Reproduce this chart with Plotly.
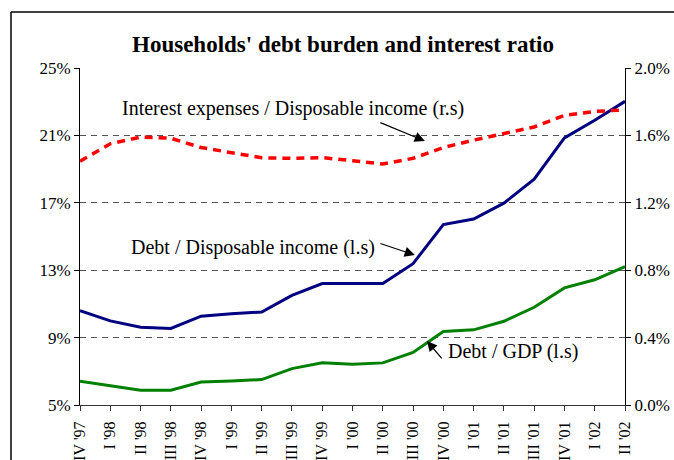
import plotly.graph_objects as go

quarters = ["IV '97", "I '98", "II '98", "III '98", "IV '98", "I '99", "II '99", "III '99",
            "IV '99", "I '00", "II '00", "III '00", "IV '00", "I '01", "II '01", "III '01",
            "IV '01", "I '02", "II '02"]

debt_disp_income = [10.6, 9.99, 9.62, 9.54, 10.27, 10.42, 10.52, 11.50, 12.21, 12.21, 12.21,
                    13.39, 15.71, 16.04, 16.98, 18.40, 20.85, 21.90, 23.02]
debt_gdp = [6.41, 6.14, 5.88, 5.88, 6.36, 6.43, 6.51, 7.16, 7.51, 7.42, 7.50, 8.12, 9.36,
            9.46, 9.97, 10.80, 11.95, 12.43, 13.21]
interest_disp_income = [1.447, 1.550, 1.590, 1.583, 1.528, 1.495, 1.467, 1.464, 1.468, 1.450,
                        1.430, 1.464, 1.528, 1.572, 1.609, 1.650, 1.719, 1.742, 1.752]

left_ticks = [5, 9, 13, 17, 21, 25]
right_ticks = [0.0, 0.4, 0.8, 1.2, 1.6, 2.0]

SERIF = "Liberation Serif, Times New Roman, serif"

fig = go.Figure()
fig.add_trace(go.Scatter(x=quarters, y=debt_disp_income, mode="lines",
                         line=dict(color="#000080", width=3), yaxis="y", showlegend=False))
fig.add_trace(go.Scatter(x=quarters, y=debt_gdp, mode="lines",
                         line=dict(color="#008000", width=3), yaxis="y", showlegend=False))
fig.add_trace(go.Scatter(x=quarters, y=interest_disp_income, mode="lines",
                         line=dict(color="#ff0000", width=3.5, dash="8px,6px"),
                         yaxis="y2", showlegend=False))

fig.update_layout(
    width=674, height=460,
    margin=dict(l=80, r=49, t=68, b=55),
    paper_bgcolor="white", plot_bgcolor="white",
    font=dict(family=SERIF, color="black"),
    title=dict(text="<b>Households' debt burden and interest ratio</b>",
               x=343 / 674, xref="container", xanchor="center",
               y=1 - 44 / 460, yref="container", yanchor="middle",
               font=dict(family=SERIF, size=23, color="black")),
    xaxis=dict(type="category", range=[0, 18], tickangle=-90, automargin=False,
               showline=True, linecolor="#333", linewidth=1,
               ticks="outside", ticklen=5, tickcolor="#333", ticklabelstandoff=4,
               showgrid=False, zeroline=False,
               tickfont=dict(family=SERIF, size=16, color="black")),
    yaxis=dict(range=[5, 25], tickvals=left_ticks, automargin=False,
               ticktext=[f"{v}%" for v in left_ticks],
               showline=True, linecolor="black", linewidth=1,
               ticks="outside", ticklen=5, tickcolor="black",
               showgrid=True, gridcolor="#555", gridwidth=1.2, griddash="6px,5px",
               zeroline=False,
               tickfont=dict(family=SERIF, size=17, color="black")),
    yaxis2=dict(range=[0, 2.0], tickvals=right_ticks, automargin=False,
                ticktext=[f"{v:.1f}%" for v in right_ticks],
                overlaying="y", side="right",
                showline=True, linecolor="black", linewidth=1,
                ticks="outside", ticklen=5, tickcolor="black",
                showgrid=False, zeroline=False,
                tickfont=dict(family=SERIF, size=17, color="black")),
)

# outer frame (left and top edges)
fig.add_shape(type="line", xref="paper", yref="paper",
              x0=(11 - 80) / 545, x1=(11 - 80) / 545, y0=(405 - 12) / 337, y1=(405 - 470) / 337,
              line=dict(color="black", width=1.5))
fig.add_shape(type="line", xref="paper", yref="paper",
              x0=(11 - 80) / 545, x1=(680 - 80) / 545, y0=(405 - 12) / 337, y1=(405 - 12) / 337,
              line=dict(color="black", width=1.5))

anno_font = dict(family=SERIF, size=20, color="black")
fig.add_annotation(x=7.03, y=22.57, xref="x", yref="y", text="Interest expenses / Disposable income (r.s)",
                   showarrow=False, font=anno_font)
fig.add_annotation(x=11.39, y=20.67, xref="x", yref="y", text="", showarrow=True,
                   ax=-46, ay=-19, arrowhead=2, arrowsize=1.7, arrowwidth=1.2, arrowcolor="black")
fig.add_annotation(x=5.70, y=14.32, xref="x", yref="y", text="Debt / Disposable income (l.s)",
                   showarrow=False, font=anno_font)
fig.add_annotation(x=11.06, y=13.90, xref="x", yref="y", text="", showarrow=True,
                   ax=-36, ay=-12, arrowhead=2, arrowsize=1.7, arrowwidth=1.2, arrowcolor="black")
fig.add_annotation(x=14.30, y=8.15, xref="x", yref="y", text="Debt / GDP (l.s)",
                   showarrow=False, font=anno_font)
fig.add_annotation(x=11.46, y=8.80, xref="x", yref="y", text="", showarrow=True,
                   ax=16, ay=19, arrowhead=2, arrowsize=1.7, arrowwidth=1.2, arrowcolor="black")

fig.write_html("out.html")
